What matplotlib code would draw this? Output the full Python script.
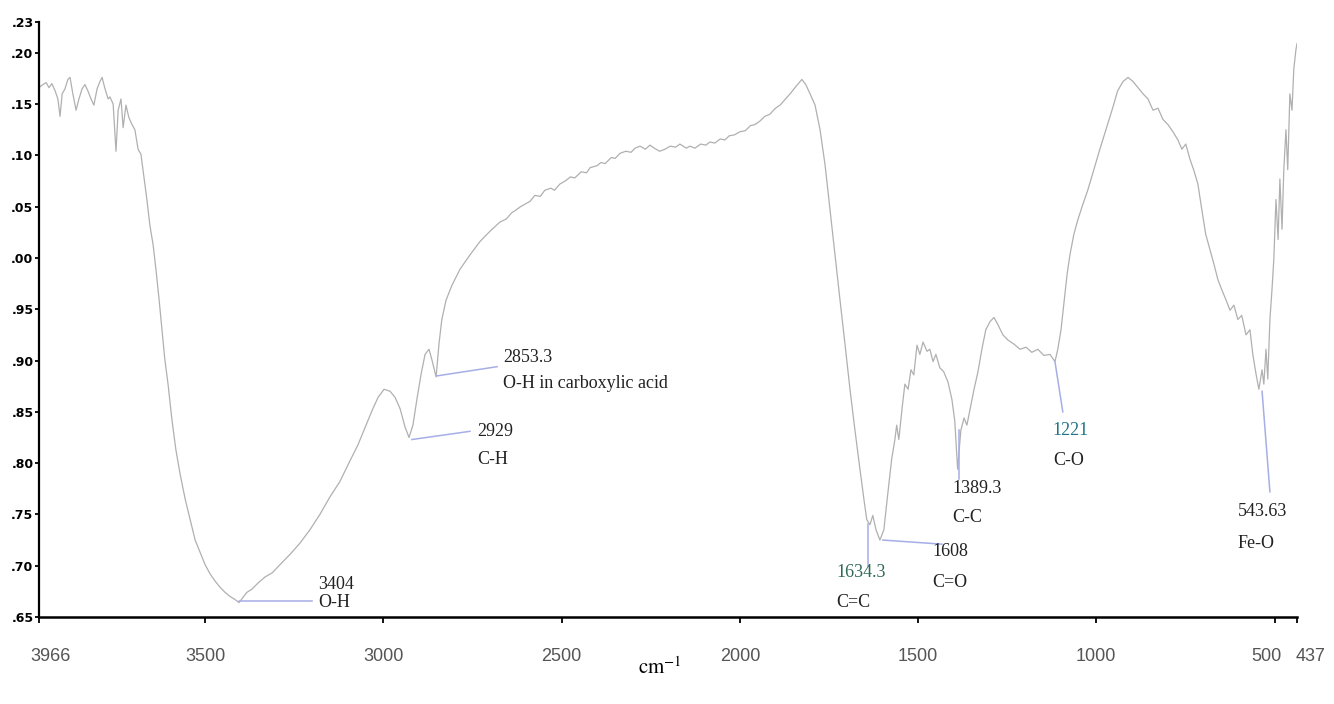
import matplotlib
matplotlib.use("Agg")
import matplotlib.pyplot as plt
from matplotlib.transforms import ScaledTranslation

# FTIR spectrum (wavenumber, absorbance)
wavenumber = [
    3963, 3955, 3946, 3938, 3930, 3921, 3913, 3907, 3901, 3893, 3885, 3879,
    3871, 3862, 3854, 3845, 3837, 3829, 3820, 3812, 3803, 3795, 3789, 3781,
    3772, 3767, 3758, 3750, 3744, 3736, 3730, 3722, 3714, 3705, 3697, 3688,
    3680, 3671, 3663, 3655, 3646, 3638, 3629, 3621, 3613, 3604, 3593, 3582,
    3570, 3556, 3542, 3528, 3514, 3500, 3486, 3472, 3458, 3444, 3430, 3416,
    3405, 3394, 3383, 3369, 3352, 3332, 3312, 3290, 3262, 3234, 3206, 3178,
    3150, 3122, 3094, 3071, 3052, 3032, 3015, 2998, 2981, 2967, 2953, 2939,
    2928, 2917, 2906, 2894, 2883, 2872, 2864, 2852, 2844, 2836, 2824, 2808,
    2785, 2757, 2729, 2701,
    2673, 2655, 2640, 2631, 2615, 2600, 2589, 2575, 2560, 2547, 2530, 2520,
    2505, 2490, 2475, 2463, 2445, 2430, 2420, 2400, 2390, 2378, 2360, 2350,
    2336, 2320, 2305, 2294, 2280, 2265, 2252, 2240, 2225, 2210, 2195, 2180,
    2168, 2150, 2140, 2126, 2110, 2095, 2084, 2070, 2055, 2042, 2030, 2015,
    2000, 1985, 1970, 1958, 1945, 1930, 1916, 1900, 1887,
    1859, 1843, 1826, 1815, 1803, 1789, 1775, 1761, 1747, 1733, 1719, 1705,
    1691, 1677, 1663, 1652, 1644, 1635, 1627, 1618, 1607, 1596, 1585, 1574,
    1565, 1560, 1554, 1545, 1537, 1528, 1520, 1512, 1503, 1495, 1486, 1475,
    1467, 1458, 1450, 1439, 1428, 1416, 1405, 1397, 1389, 1380, 1371, 1363,
    1354, 1343, 1332, 1321, 1310, 1298, 1287, 1276, 1262, 1248, 1231, 1214,
    1197, 1181, 1164, 1147, 1130, 1116, 1108, 1099, 1091, 1082, 1074, 1063,
    1052, 1038, 1024, 1007, 990, 973, 956, 940, 925, 911, 897, 883,
    869, 855, 841, 827, 813, 799, 785, 771, 760, 749, 737, 726,
    715, 704, 693, 681, 670, 659, 648, 636, 625, 614, 603, 592,
    580, 569, 561, 552, 544, 535, 530, 524, 519, 513, 507, 502,
    496, 490, 485, 479, 474, 468, 463, 457, 451, 446, 440, 437,
]
absorbance = [
    1.167, 1.169, 1.171, 1.166, 1.170, 1.163, 1.155, 1.138, 1.160, 1.165, 1.174, 1.176,
    1.160, 1.144, 1.155, 1.165, 1.169, 1.163, 1.155, 1.149, 1.165, 1.172, 1.176, 1.165,
    1.155, 1.157, 1.150, 1.104, 1.144, 1.155, 1.127, 1.149, 1.137, 1.130, 1.125, 1.106,
    1.101, 1.077, 1.056, 1.032, 1.013, 0.989, 0.959, 0.930, 0.901, 0.877, 0.842, 0.813,
    0.789, 0.765, 0.745, 0.725, 0.713, 0.701, 0.692, 0.685, 0.679, 0.674, 0.670, 0.667,
    0.664, 0.669, 0.674, 0.677, 0.683, 0.689, 0.693, 0.701, 0.711, 0.722, 0.735, 0.750,
    0.767, 0.782, 0.802, 0.818, 0.834, 0.851, 0.864, 0.872, 0.870, 0.864, 0.853, 0.835,
    0.825, 0.837, 0.862, 0.887, 0.906, 0.911, 0.901, 0.884, 0.916, 0.940, 0.959, 0.973,
    0.989, 1.003, 1.016, 1.026,
    1.035, 1.038, 1.044, 1.046, 1.050, 1.053, 1.055, 1.061, 1.060, 1.066, 1.068, 1.066,
    1.072, 1.075, 1.079, 1.078, 1.084, 1.083, 1.088, 1.090, 1.093, 1.092, 1.098, 1.097,
    1.102, 1.104, 1.103, 1.107, 1.109, 1.106, 1.110, 1.107, 1.104, 1.106, 1.109, 1.108,
    1.111, 1.107, 1.109, 1.107, 1.111, 1.110, 1.113, 1.112, 1.116, 1.115, 1.119, 1.120,
    1.123, 1.124, 1.129, 1.130, 1.133, 1.138, 1.140, 1.146, 1.149,
    1.160, 1.167, 1.174, 1.169, 1.160, 1.149, 1.125, 1.091, 1.047, 1.003, 0.959, 0.916,
    0.872, 0.832, 0.794, 0.765, 0.745, 0.740, 0.749, 0.735, 0.725, 0.735, 0.770, 0.804,
    0.823, 0.837, 0.823, 0.853, 0.877, 0.872, 0.891, 0.886, 0.915, 0.906, 0.918, 0.909,
    0.911, 0.899, 0.906, 0.893, 0.889, 0.879, 0.862, 0.841, 0.794, 0.832, 0.844, 0.837,
    0.853, 0.872, 0.889, 0.911, 0.930, 0.938, 0.942, 0.935, 0.925, 0.920, 0.916, 0.911,
    0.913, 0.908, 0.911, 0.905, 0.906, 0.899, 0.911, 0.930, 0.955, 0.984, 1.003, 1.023,
    1.037, 1.052, 1.066, 1.086, 1.106, 1.125, 1.144, 1.163, 1.172, 1.176, 1.172, 1.166,
    1.160, 1.155, 1.144, 1.146, 1.135, 1.130, 1.123, 1.115, 1.106, 1.111, 1.096, 1.085,
    1.072, 1.047, 1.023, 1.008, 0.994, 0.979, 0.969, 0.959, 0.949, 0.954, 0.940, 0.944,
    0.925, 0.930, 0.906, 0.887, 0.872, 0.891, 0.877, 0.911, 0.882, 0.940, 0.970, 0.999,
    1.057, 1.018, 1.077, 1.028, 1.086, 1.125, 1.086, 1.160, 1.144, 1.184, 1.203, 1.209,
]

xticks = [3966, 3500, 3000, 2500, 2000, 1500, 1000, 500, 437]
xtick_labels = ["3966", "3500", "3000", "2500", "2000", "1500", "1000", "500", "437"]
yticks = [0.65, 0.70, 0.75, 0.80, 0.85, 0.90, 0.95, 1.00, 1.05, 1.10, 1.15, 1.20, 1.23]
ytick_labels = [".65", ".70", ".75", ".80", ".85", ".90", ".95",
                ".00", ".05", ".10", ".15", ".20", ".23"]

# peak labels: (number, group, leader start, leader end, text anchor x / y1 / y2, colour)
peaks = [
    ("3404", "O-H", (3405, 0.666), (3200, 0.666), (3183, 0.682, 0.664), "#222222"),
    ("2929", "C-H", (2920, 0.823), (2757, 0.831), (2737, 0.831, 0.804), "#222222"),
    ("2853.3", "O-H in carboxylic acid", (2850, 0.885), (2681, 0.894), (2664, 0.903, 0.878), "#222222"),
    ("1634.3", "C=C", (1641, 0.741), (1641, 0.700), (1730, 0.693, 0.664), "#2f6a55"),
    ("1608", "C=O", (1599, 0.725), (1433, 0.721), (1461, 0.714, 0.684), "#222222"),
    ("1389.3", "C-C", (1386, 0.832), (1386, 0.785), (1405, 0.775, 0.747), "#222222"),
    ("1221", "C-O", (1116, 0.899), (1094, 0.850), (1122, 0.832, 0.803), "#1f7486"),
    ("543.63", "Fe-O", (535, 0.870), (513, 0.772), (603, 0.753, 0.722), "#222222"),
]

W, H = 1334, 704
fig = plt.figure(figsize=(W / 100, H / 100), dpi=100)
ax = fig.add_axes([39 / W, (H - 617) / H, (1297 - 39) / W, (617 - 22) / H])

ax.plot(wavenumber, absorbance, color="#b0b0b0", lw=0.9)

for num, grp, p0, p1, txt, col in peaks:
    ax.plot([p0[0], p1[0]], [p0[1], p1[1]], color="#a6aee6", lw=1.1)
    ax.text(txt[0], txt[1], num, family="Liberation Serif", fontsize=13,
            color=col, va="center", ha="left")
    ax.text(txt[0], txt[2], grp, family="Liberation Serif", fontsize=13,
            color="#222222", va="center", ha="left")

ax.set_xlim(3966, 437)
ax.set_ylim(0.65, 1.23)
ax.set_xticks(xticks)
ax.set_xticklabels(xtick_labels, family="Liberation Sans", fontsize=13, color="#555555")
ax.set_yticks(yticks)
ax.set_yticklabels(ytick_labels, fontsize=9, fontweight="bold", color="black")

ax.tick_params(axis="x", length=4, width=1.3, direction="out", pad=18)
ax.tick_params(axis="y", length=3, width=1.3, direction="out", pad=1)

# nudge the end labels like in the picture
offsets = {"3966": 12, "500": -8, "437": 14}
for lab in ax.get_xticklabels():
    dx = offsets.get(lab.get_text(), 0)
    if dx:
        lab.set_transform(lab.get_transform() + ScaledTranslation(dx / 100, 0, fig.dpi_scale_trans))

for s in ["top", "right"]:
    ax.spines[s].set_visible(False)
ax.spines["left"].set_linewidth(1.6)
ax.spines["bottom"].set_linewidth(1.8)

plt.rcParams["mathtext.fontset"] = "stix"
fig.text(660 / W, (H - 667) / H, r"$\mathrm{cm}^{-1}$", fontsize=15, ha="center", va="center")

fig.savefig("out.png", dpi=100, facecolor="white")
